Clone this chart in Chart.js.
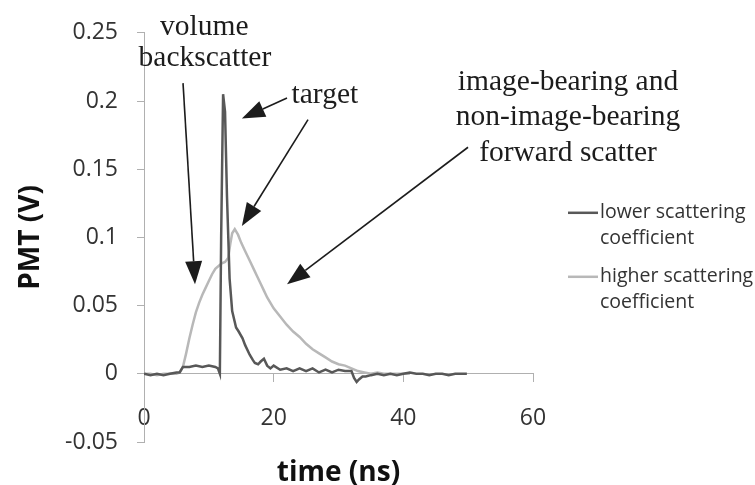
<!DOCTYPE html>
<html><head><meta charset="utf-8">
<script src="https://cdn.jsdelivr.net/npm/chart.js@4/dist/chart.umd.min.js"></script>
<style>html,body{margin:0;padding:0;background:#fff}#wrap{width:755px;height:485px}</style>
</head><body><div id="wrap"><canvas id="c" width="755" height="485"></canvas></div>
<script>
// ---- data ----
const timeLower = [0,1,2,3,4,5,5.5,6,7,8,9,10,11,11.4,11.7,11.9,12.2,12.5,12.8,13.2,13.6,14.2,14.6,15.2,15.6,16.3,16.8,17.1,17.6,18,18.5,19,19.5,20,21,22,23,24,25,26,27,28,29,30,31,32,32.4,32.8,33.2,33.7,34.2,35,36,37,38,39,40,41,42,43,44,45,46,47,48,49,49.8];
const pmtLower  = [0,-0.001,0,-0.001,0,0.001,0.001,0.005,0.005,0.006,0.005,0.006,0.005,0.004,0.000,0.100,0.205,0.192,0.130,0.070,0.046,0.034,0.031,0.026,0.021,0.014,0.010,0.008,0.007,0.009,0.011,0.006,0.004,0.006,0.003,0.004,0.002,0.004,0.002,0.004,0.001,0.003,0.001,0.003,0.002,0.002,-0.003,-0.006,-0.004,-0.002,-0.002,-0.001,0,-0.001,0,-0.001,0,0.001,0,0,-0.001,0,0,-0.001,0,0,0];
const timeHigher = [0,1,2,3,4,5,5.5,6,6.5,7,7.5,8,8.5,9,9.5,10,10.5,11,11.5,12,12.5,13,13.3,13.6,14,14.5,15,15.5,16,16.5,17,17.5,18,18.5,19,19.5,20,21,22,23,24,25,26,27,28,29,30,31,32,33,34,35,36,37,38,39,40,41];
const pmtHigher  = [0,0,-0.001,0,0,0,0.001,0.005,0.015,0.026,0.036,0.045,0.052,0.058,0.063,0.068,0.073,0.077,0.079,0.081,0.082,0.085,0.095,0.103,0.106,0.102,0.096,0.091,0.086,0.081,0.076,0.071,0.066,0.061,0.056,0.052,0.048,0.042,0.036,0.031,0.027,0.022,0.018,0.015,0.012,0.009,0.007,0.006,0.004,0.002,0.001,0,0.001,0,0,0,0,0];
const seriesNames = ['lower scattering coefficient','higher scattering coefficient'];
const legendLines = [['lower scattering','coefficient'],['higher scattering','coefficient']];
const xTickLabels = ['0','20','40','60'];
const yTickLabels = ['-0.05','0','0.05','0.1','0.15','0.2','0.25'];
const annotationTexts = ['volume','backscatter','target','image-bearing and','non-image-bearing','forward scatter'];

const toPts = (xs, ys) => xs.map((x, i) => ({x: x, y: ys[i]}));

// annotation placement in data coordinates (time, volts)
const annotationLayout = {
  texts: [[9.3,0.2486],[9.4,0.2254],[27.9,0.1987],[65.4,0.2081],[65.4,0.1821],[65.4,0.1561]],
  arrows: [[6.02,0.2131,7.87,0.0656],[22.06,0.2022,15.1,0.1871],[25.3,0.1864,15.1,0.1083],[49.98,0.1661,22.06,0.0656]]
};

const annotationPlugin = {
  id: 'annotations',
  afterDraw(chart) {
    const ctx = chart.ctx, xs = chart.scales.x, ys = chart.scales.y;
    ctx.save();
    ctx.fillStyle = '#1c1c1c';
    ctx.font = '29.5px "Liberation Serif", "Times New Roman", serif';
    ctx.textAlign = 'center';
    ctx.textBaseline = 'alphabetic';
    annotationTexts.forEach((t, i) => {
      const p = annotationLayout.texts[i];
      ctx.fillText(t, xs.getPixelForValue(p[0]), ys.getPixelForValue(p[1]));
    });
    ctx.strokeStyle = '#1c1c1c';
    ctx.lineWidth = 1.6;
    annotationLayout.arrows.forEach(a => {
      const x1 = xs.getPixelForValue(a[0]), y1 = ys.getPixelForValue(a[1]);
      const x2 = xs.getPixelForValue(a[2]), y2 = ys.getPixelForValue(a[3]);
      const ang = Math.atan2(y2 - y1, x2 - x1);
      const L = 23, W = 8.5;
      const bx = x2 - L * Math.cos(ang), by = y2 - L * Math.sin(ang);
      ctx.beginPath(); ctx.moveTo(x1, y1); ctx.lineTo(bx, by); ctx.stroke();
      ctx.beginPath();
      ctx.moveTo(x2, y2);
      ctx.lineTo(bx + W * Math.sin(ang), by - W * Math.cos(ang));
      ctx.lineTo(bx - W * Math.sin(ang), by + W * Math.cos(ang));
      ctx.closePath(); ctx.fill();
    });
    ctx.restore();
  }
};

const legendPlugin = {
  id: 'sideLegend',
  afterDraw(chart) {
    const ctx = chart.ctx, ca = chart.chartArea;
    ctx.save();
    ctx.font = '19.5px "Open Sans", sans-serif';
    ctx.textBaseline = 'middle';
    ctx.textAlign = 'left';
    chart.data.datasets.forEach((ds, i) => {
      const y0 = ca.top + 180 + i * 64;
      const x0 = ca.right + 35;
      ctx.strokeStyle = ds.borderColor;
      ctx.lineWidth = 2.5;
      ctx.beginPath(); ctx.moveTo(x0, y0); ctx.lineTo(x0 + 30, y0); ctx.stroke();
      ctx.fillStyle = '#333333';
      legendLines[i].forEach((t, j) => ctx.fillText(t, x0 + 32, y0 + j * 26));
    });
    ctx.restore();
  }
};

const axisColor = '#b0b0b0';
new Chart(document.getElementById('c'), {
  type: 'line',
  data: {
    datasets: [
      {label: seriesNames[0], data: toPts(timeLower, pmtLower), borderColor: '#585858', borderWidth: 2.5, pointRadius: 0, tension: 0, fill: false},
      {label: seriesNames[1], data: toPts(timeHigher, pmtHigher), borderColor: '#b8b8b8', borderWidth: 2.5, pointRadius: 0, tension: 0, fill: false}
    ]
  },
  options: {
    responsive: false,
    animation: false,
    devicePixelRatio: 1,
    layout: {padding: {left: 0, top: 27, right: 222, bottom: 43}},
    plugins: {legend: {display: false}, tooltip: {enabled: false}},
    scales: {
      x: {
        type: 'linear', position: {y: 0}, min: 0, max: 60,
        ticks: {stepSize: 20, padding: 23, color: '#333333', font: {family: 'Open Sans', size: 23},
                callback: (v, i) => xTickLabels[i]},
        grid: {drawOnChartArea: false, drawTicks: true, tickLength: 8, color: axisColor},
        border: {color: axisColor, width: 1},
        title: {display: true, text: 'time (ns)', color: '#111', font: {family: 'Open Sans', size: 28, weight: 'bold'},
                padding: {top: 1, bottom: 0}}
      },
      y: {
        type: 'linear', position: 'left', min: -0.05, max: 0.25,
        ticks: {stepSize: 0.05, padding: 19, color: '#333333', font: {family: 'Open Sans', size: 23},
                callback: (v, i) => yTickLabels[i]},
        grid: {drawOnChartArea: false, drawTicks: true, tickLength: 7, color: axisColor},
        border: {color: axisColor, width: 1},
        title: {display: true, text: 'PMT (V)', color: '#111', font: {family: 'Open Sans', size: 28, weight: 'bold'},
                padding: {top: 14, bottom: 0}},
        afterFit: s => { s.width = 144; }
      }
    }
  },
  plugins: [annotationPlugin, legendPlugin]
});
</script></body></html>
